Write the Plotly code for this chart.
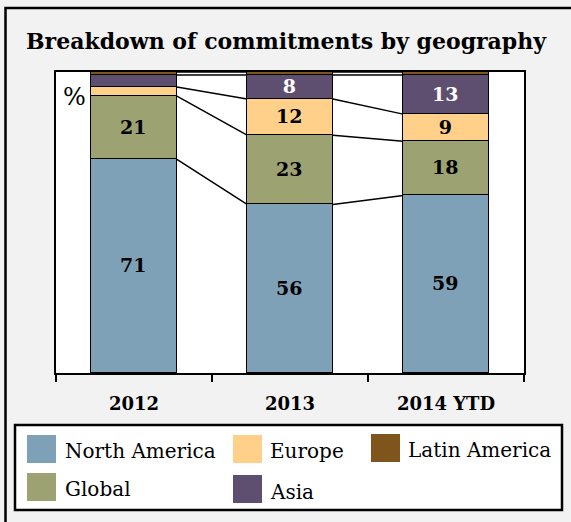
import plotly.graph_objects as go

# ---------------- data ----------------
categories = ["2012", "2013", "2014 YTD"]
series_names = ["North America", "Global", "Europe", "Asia", "Latin America"]
north_america = [71, 56, 59]
global_ = [21, 23, 18]
europe = [3, 12, 9]
asia = [4, 8, 13]
latin_america = [1, 1, 1]
labels_shown = {  # which segments carry a value label
    "North America": [True, True, True],
    "Global": [True, True, True],
    "Europe": [False, True, True],
    "Asia": [False, True, True],
    "Latin America": [False, False, False],
}
legend_order = ["North America", "Europe", "Latin America", "Global", "Asia"]

values = [north_america, global_, europe, asia, latin_america]
colors = {
    "North America": "#7FA1B7",
    "Global": "#9DA273",
    "Europe": "#FFD08A",
    "Asia": "#5E4F70",
    "Latin America": "#7F551D",
}
label_colors = {"Asia": "white"}

FONT = "DejaVu Serif"
W_FIG, H_FIG = 571, 522
L, R, T, B = 56, 524, 72, 373
PW, PH = R - L, B - T


def px(x):
    return (x - L) / PW


def py(y):
    return (B - y) / PH


BAR_W = 0.55
xs = list(range(len(categories)))

fig = go.Figure()
for name, vals in zip(series_names, values):
    txt = [f"<b>{v}</b>" if s else "" for v, s in zip(vals, labels_shown[name])]
    fig.add_trace(go.Bar(
        x=xs, y=vals, width=BAR_W, name=name,
        marker=dict(color=colors[name], line=dict(color="black", width=1.5)),
        text=txt, textposition="inside", insidetextanchor="middle",
        textangle=0,
        textfont=dict(family=FONT, size=19, color=label_colors.get(name, "black")),
        showlegend=False, hoverinfo="skip",
    ))

# connector lines between the stacked boundaries
cx, cy = [], []
cum = [0] * len(categories)
for vals in values:
    cum = [c + v for c, v in zip(cum, vals)]
    for i in range(len(categories) - 1):
        cx += [i + BAR_W / 2, i + 1 - BAR_W / 2, None]
        cy += [cum[i], cum[i + 1], None]
fig.add_trace(go.Scatter(x=cx, y=cy, mode="lines",
                         line=dict(color="black", width=1.5),
                         showlegend=False, hoverinfo="skip"))

shapes = []
annotations = []
# outer frame
shapes.append(dict(type="rect", xref="paper", yref="paper",
                   x0=px(5.5), x1=px(600), y0=py(560), y1=py(8),
                   line=dict(color="black", width=2.5), layer="below"))
# legend box
shapes.append(dict(type="rect", xref="paper", yref="paper",
                   x0=px(15), x1=px(562), y0=py(510), y1=py(425),
                   fillcolor="white", line=dict(color="black", width=2.5)))
leg_pos = {
    "North America": (27, 435, 63, 451),
    "Europe": (233, 435, 268, 451),
    "Latin America": (371, 434, 406, 450),
    "Global": (27, 473, 63, 489),
    "Asia": (233, 475, 268, 492),
}
for name in legend_order:
    sx, sy, tx, ty = leg_pos[name]
    shapes.append(dict(type="rect", xref="paper", yref="paper",
                       x0=px(sx), x1=px(sx + 29), y0=py(sy + 28), y1=py(sy),
                       fillcolor=colors[name], line=dict(width=0)))
    annotations.append(dict(text=name, xref="paper", yref="paper",
                            x=px(tx), y=py(ty), xanchor="left", yanchor="middle",
                            showarrow=False,
                            font=dict(family=FONT, size=20, color="black")))

annotations.append(dict(text="<b>Breakdown of commitments by geography</b>",
                        xref="paper", yref="paper", x=px(24), y=py(41),
                        xanchor="left", yanchor="middle", showarrow=False,
                        font=dict(family=FONT, size=22, color="black")))
annotations.append(dict(text="%", xref="paper", yref="paper", x=px(61), y=py(97),
                        xanchor="left", yanchor="middle", showarrow=False,
                        font=dict(family=FONT, size=24, color="black")))

fig.update_layout(
    width=W_FIG, height=H_FIG,
    margin=dict(l=L, r=W_FIG - R, t=T, b=H_FIG - B),
    paper_bgcolor="#F2F2F2", plot_bgcolor="white",
    barmode="stack", bargap=0,
    uniformtext=dict(minsize=19, mode="show"),
    shapes=shapes, annotations=annotations,
    xaxis=dict(range=[-0.5, len(categories) - 0.5], tickvals=xs,
               ticktext=[f"<b>{c}</b>" for c in categories],
               tickfont=dict(family=FONT, size=18, color="black"),
               ticks="", showgrid=False, zeroline=False,
               showline=True, mirror=True, linecolor="black", linewidth=1.5,
               ticklabelstandoff=14,
               minor=dict(tickvals=[i - 0.5 for i in range(len(categories) + 1)],
                          ticks="outside", ticklen=7, tickcolor="black",
                          tickwidth=1.5, showgrid=False)),
    yaxis=dict(range=[0, 100], showticklabels=False, ticks="", showgrid=False,
               zeroline=False, showline=True, mirror=True, linecolor="black",
               linewidth=1.5),
)

fig.write_html("out.html")
